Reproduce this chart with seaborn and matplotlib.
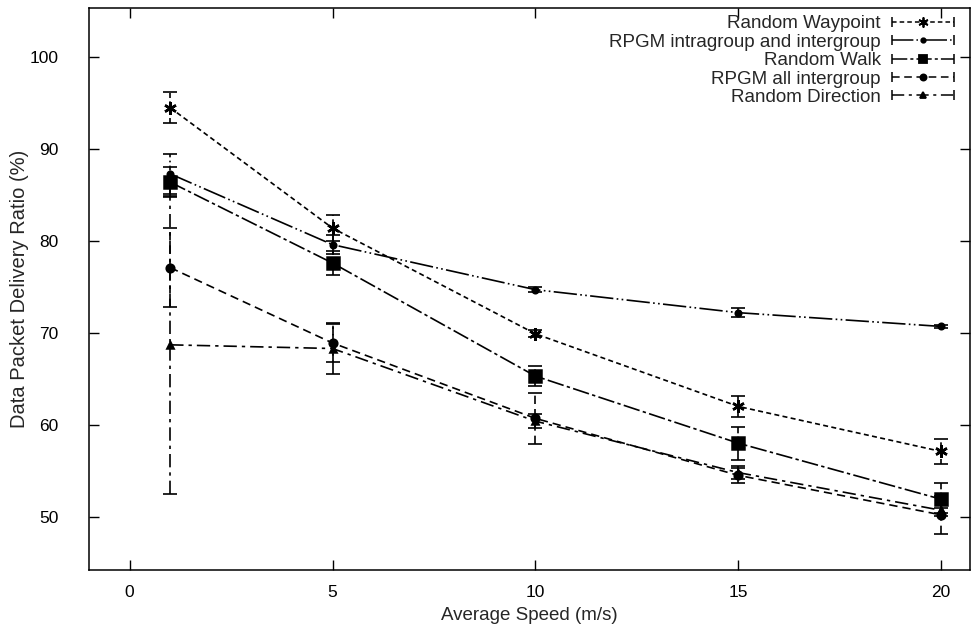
import numpy as np
import pandas as pd
import matplotlib
matplotlib.use("Agg")
import matplotlib.pyplot as plt
import seaborn as sns
from matplotlib.lines import Line2D
from matplotlib.legend_handler import HandlerLine2D

# Velocidades medias (m/s)
speeds = [1, 5, 10, 15, 20]

models = [
    "Random Waypoint",
    "RPGM intragroup and intergroup",
    "Random Walk",
    "RPGM all intergroup",
    "Random Direction",
]

# Taxa de entrega (%) e meia-largura do intervalo
rwp = [94.5, 81.4, 69.9, 62.0, 57.1]
rwp_err = [1.7, 1.4, 0.4, 1.1, 1.4]
rpgm_ii = [87.3, 79.6, 74.7, 72.2, 70.7]
rpgm_ii_err = [2.2, 1.0, 0.3, 0.5, 0.2]
rwalk = [86.4, 77.6, 65.3, 58.0, 51.9]
rwalk_err = [1.6, 1.3, 1.1, 1.8, 1.8]
rpgm_all = [77.1, 68.9, 60.7, 54.5, 50.2]
rpgm_all_err = [4.3, 2.1, 2.8, 0.8, 2.1]
rdir = [68.7, 68.3, 60.4, 54.8, 50.7]
rdir_err = [16.2, 2.8, 0.8, 0.7, 0.3]

values = [rwp, rpgm_ii, rwalk, rpgm_all, rdir]
errors = [rwp_err, rpgm_ii_err, rwalk_err, rpgm_all_err, rdir_err]

dash_map = {
    "Random Waypoint": (3, 2),
    "RPGM intragroup and intergroup": (14, 2, 1, 2, 1, 2),
    "Random Walk": (10, 2, 2, 2),
    "RPGM all intergroup": (5, 3),
    "Random Direction": (8, 3, 2, 3),
}
marker_map = {
    "Random Waypoint": (6, 2, 0),
    "RPGM intragroup and intergroup": "o",
    "Random Walk": "s",
    "RPGM all intergroup": "o",
    "Random Direction": "^",
}
size_map = {
    "Random Waypoint": 9,
    "RPGM intragroup and intergroup": 4,
    "Random Walk": 8,
    "RPGM all intergroup": 5.5,
    "Random Direction": 5,
}

rows = []
for m, vals, errs in zip(models, values, errors):
    for s, v, e in zip(speeds, vals, errs):
        rows.append({"speed": s, "pdr": v, "err": e, "model": m})
df = pd.DataFrame(rows)

sns.set_style("ticks")
plt.rcParams["font.family"] = ["Liberation Sans", "DejaVu Sans"]

fig = plt.figure(figsize=(9.73, 6.24), dpi=100)
ax = fig.add_axes([0.0915, 0.0865, 0.905, 0.90])

sns.lineplot(data=df, x="speed", y="pdr", hue="model", style="model",
             palette={m: "black" for m in models}, dashes=dash_map,
             markers=False, linewidth=1.2, legend=False, ax=ax)

handles = []
for m in models:
    sub = df[df["model"] == m]
    eb = ax.errorbar(sub["speed"], sub["pdr"], yerr=sub["err"], fmt="none",
                     ecolor="black", elinewidth=1.2, capsize=5, capthick=1.2)
    eb[2][0].set_linestyle((0, dash_map[m]))
    ax.plot(sub["speed"], sub["pdr"], linestyle="none", marker=marker_map[m],
            markersize=size_map[m], color="black", mec="black", mew=1.8)
    handles.append(Line2D([], [], color="black", lw=1.1, dashes=dash_map[m],
                          marker=marker_map[m], markersize=size_map[m] * 0.8,
                          mew=1.3))


class CapHandler(HandlerLine2D):
    def create_artists(self, legend, orig_handle, xdescent, ydescent, width,
                       height, fontsize, trans):
        arts = super().create_artists(legend, orig_handle, xdescent, ydescent,
                                      width, height, fontsize, trans)
        y = height / 2 - ydescent
        caps = Line2D([-xdescent, -xdescent + width], [y, y], ls="none",
                      marker="|", ms=7, mew=1.1, color="black", transform=trans)
        return arts + [caps]


leg = ax.legend(handles, models, loc="upper right", frameon=False,
                markerfirst=False, fontsize=13.5, handlelength=3.3,
                handletextpad=0.6, labelspacing=0.07, borderaxespad=0.2,
                bbox_to_anchor=(0.995, 1.008),
                handler_map={Line2D: CapHandler(numpoints=1)})
for t in leg.get_texts():
    t.set_ha("right")
leg._legend_box.align = "right"

ax.set_xlim(-1.0, 20.7)
ax.set_ylim(44.2, 105.3)
ax.set_xticks([0, 5, 10, 15, 20])
ax.set_yticks([50, 60, 70, 80, 90, 100])
ax.tick_params(direction="in", length=7, width=1, top=True, right=True,
               labelsize=12.5, colors="black")
ax.tick_params(axis="x", pad=11)
ax.tick_params(axis="y", pad=22)
for sp in ax.spines.values():
    sp.set_visible(True)
    sp.set_linewidth(1.1)
    sp.set_color("black")

ax.set_xlabel("Average Speed (m/s)", fontsize=13.5, labelpad=5)
ax.set_ylabel("Data Packet Delivery Ratio (%)", fontsize=14.5, labelpad=0)

fig.savefig("out.png", dpi=100)
